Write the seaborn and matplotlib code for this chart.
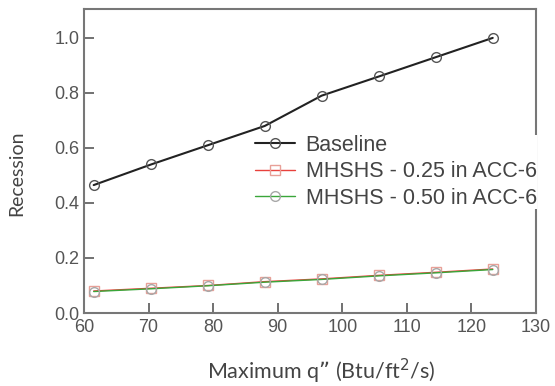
import matplotlib
matplotlib.use("Agg")
import matplotlib.pyplot as plt
import seaborn as sns
import pandas as pd

heat_flux = [61.5, 70.4, 79.2, 88.0, 96.8, 105.7, 114.5, 123.3]
baseline = [0.465, 0.54, 0.61, 0.68, 0.79, 0.86, 0.93, 1.0]
mhshs_025 = [0.080, 0.090, 0.100, 0.114, 0.124, 0.137, 0.148, 0.160]
mhshs_050 = [0.078, 0.088, 0.099, 0.112, 0.122, 0.135, 0.146, 0.158]
series_names = ["Baseline", "MHSHS - 0.25 in ACC-6", "MHSHS - 0.50 in ACC-6"]
x_ticks = [60, 70, 80, 90, 100, 110, 120, 130]
y_ticks = [0.0, 0.2, 0.4, 0.6, 0.8, 1.0]

sns.set_style("white")
plt.rcParams['font.family'] = ['Liberation Sans', 'DejaVu Sans']

df = pd.DataFrame({
    "x": heat_flux * 3,
    "y": baseline + mhshs_025 + mhshs_050,
    "series": [series_names[0]] * 8 + [series_names[1]] * 8 + [series_names[2]] * 8,
})

fig = plt.figure(figsize=(5.55, 3.86), dpi=100)
ax = fig.add_axes([84 / 555, 1 - 313 / 386, 452 / 555, 304 / 386])

colors = {series_names[0]: "#222222", series_names[1]: "#e8413c", series_names[2]: "#3aa63a"}
markers = {series_names[0]: "o", series_names[1]: "s", series_names[2]: "o"}
edges = {series_names[0]: "#555555", series_names[1]: "#e8a098", series_names[2]: "#a8a8a8"}
widths = {series_names[0]: 1.5, series_names[1]: 1.0, series_names[2]: 1.0}

for name in series_names:
    sub = df[df["series"] == name]
    sns.lineplot(data=sub, x="x", y="y", ax=ax, color=colors[name], lw=widths[name],
                 marker=markers[name], markersize=7, markerfacecolor="none",
                 markeredgecolor=edges[name], markeredgewidth=1.0, label=name)

ax.set_xlim(60, 130)
ax.set_ylim(0, 1.105)
ax.set_xticks(x_ticks)
ax.set_yticks(y_ticks)
ax.set_yticklabels([f"{v:.1f}" for v in y_ticks])
ax.tick_params(direction="in", length=7, width=1.3, colors="#666666", labelsize=13,
               labelcolor="#555555", bottom=True, left=True, top=False, right=False)
ax.tick_params(axis="y", pad=3.5)
ax.tick_params(axis="x", pad=4)
for s in ax.spines.values():
    s.set_color("#777777")
    s.set_linewidth(1.5)

ax.set_xlabel("Maximum q\u201d (Btu/ft$^2$/s)", fontsize=15.5, color="#444444", family="Lato")
ax.xaxis.set_label_coords(0.524, -0.145)
ax.set_ylabel("Recession", fontsize=14, color="#444444", family="Lato")
ax.yaxis.set_label_coords(-0.13, 0.46)

leg = ax.legend(loc="upper left", bbox_to_anchor=((255 - 84) / 452, (313 - 135) / 304),
                frameon=True, facecolor="white", edgecolor="none", framealpha=1.0,
                fancybox=False, fontsize=15.5, handlelength=1.85, handletextpad=0.5,
                labelspacing=0.25, borderaxespad=0, borderpad=0)
leg.set_zorder(10)
for t in leg.get_texts():
    t.set_color("#444444")

fig.savefig("out.png", dpi=100)
